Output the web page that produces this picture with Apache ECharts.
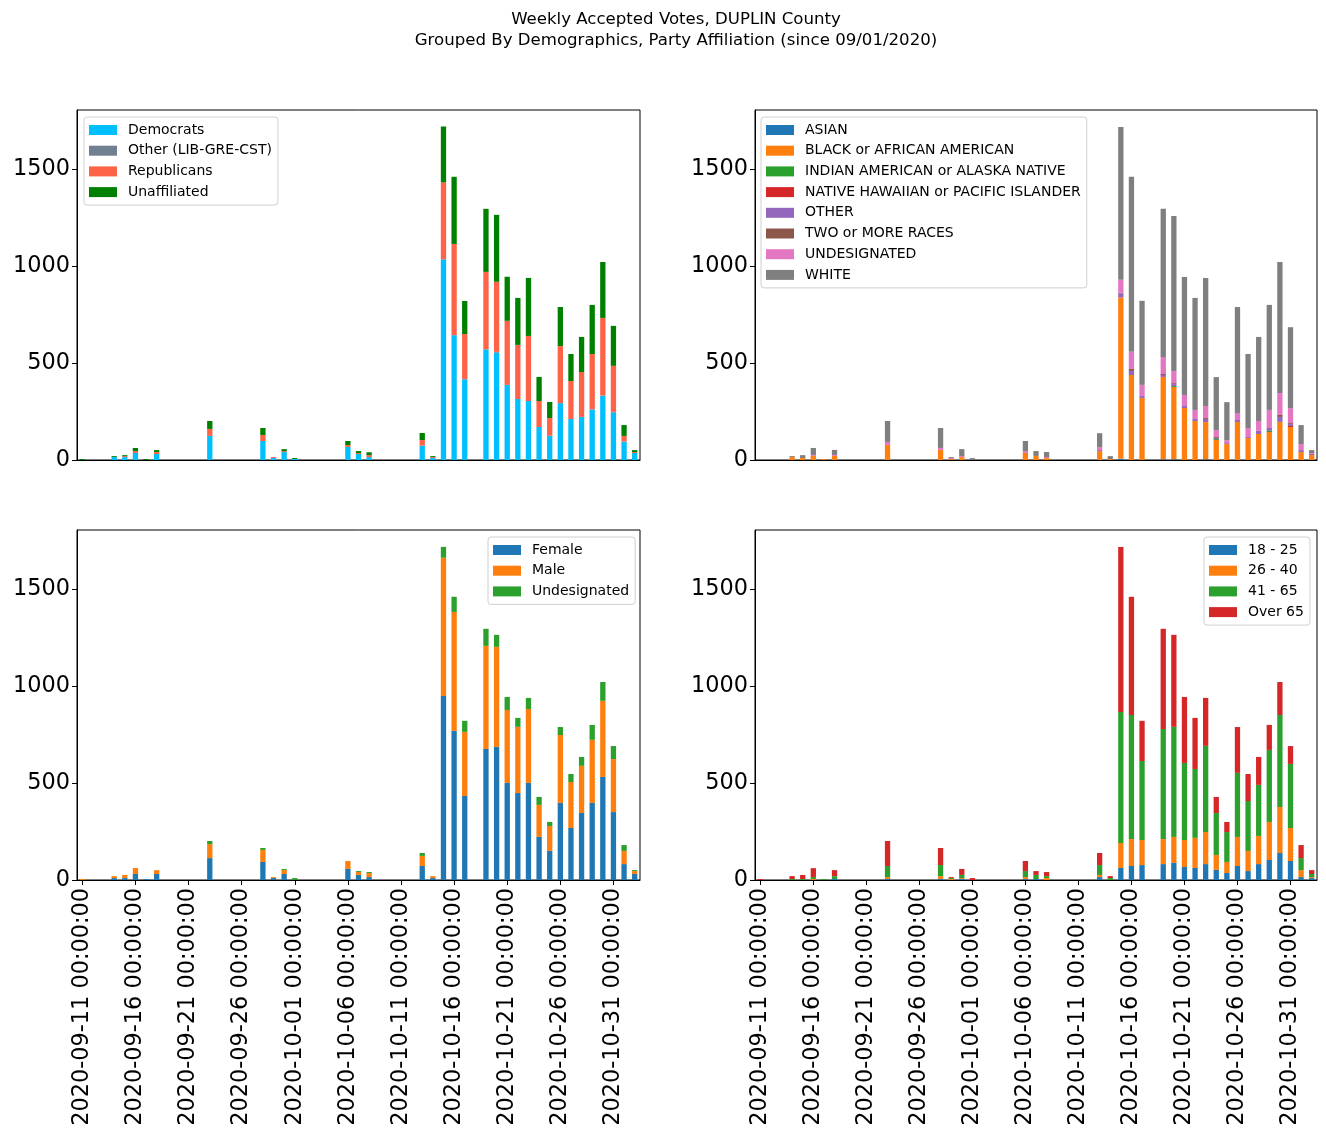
<!DOCTYPE html>
<html>
<head>
<meta charset="utf-8">
<script src="https://cdn.jsdelivr.net/npm/echarts@6/dist/echarts.min.js"></script>
<style>
html,body{margin:0;padding:0;background:#fff;}
#chart{width:1326px;height:1137px;}
</style>
</head>
<body>
<div id="chart"></div>
<script>
const categories = [
'2020-09-11 00:00:00','2020-09-12 00:00:00','2020-09-13 00:00:00','2020-09-14 00:00:00','2020-09-15 00:00:00',
'2020-09-16 00:00:00','2020-09-17 00:00:00','2020-09-18 00:00:00','2020-09-19 00:00:00','2020-09-20 00:00:00',
'2020-09-21 00:00:00','2020-09-22 00:00:00','2020-09-23 00:00:00','2020-09-24 00:00:00','2020-09-25 00:00:00',
'2020-09-26 00:00:00','2020-09-27 00:00:00','2020-09-28 00:00:00','2020-09-29 00:00:00','2020-09-30 00:00:00',
'2020-10-01 00:00:00','2020-10-02 00:00:00','2020-10-03 00:00:00','2020-10-04 00:00:00','2020-10-05 00:00:00',
'2020-10-06 00:00:00','2020-10-07 00:00:00','2020-10-08 00:00:00','2020-10-09 00:00:00','2020-10-10 00:00:00',
'2020-10-11 00:00:00','2020-10-12 00:00:00','2020-10-13 00:00:00','2020-10-14 00:00:00','2020-10-15 00:00:00',
'2020-10-16 00:00:00','2020-10-17 00:00:00','2020-10-18 00:00:00','2020-10-19 00:00:00','2020-10-20 00:00:00',
'2020-10-21 00:00:00','2020-10-22 00:00:00','2020-10-23 00:00:00','2020-10-24 00:00:00','2020-10-25 00:00:00',
'2020-10-26 00:00:00','2020-10-27 00:00:00','2020-10-28 00:00:00','2020-10-29 00:00:00','2020-10-30 00:00:00',
'2020-10-31 00:00:00','2020-11-01 00:00:00','2020-11-02 00:00:00'
];

// Party affiliation (index 0 = 2020-09-11 ... 52 = 2020-11-02)
const democrats = [
0,0,0,15,15,36,0,31,0,0,0,0,
124,0,0,0,0,98,10,41,5,0,0,0,
0,67,31,15,0,0,0,0,74,10,1033,643,
416,0,570,553,387,314,304,170,125,293,211,222,
261,332,244,95,36];
const otherParty = [
0,0,0,0,0,0,0,0,0,0,0,0,
0,0,0,0,0,0,0,0,0,0,0,0,
0,0,0,0,0,0,0,0,0,0,2,0,
0,0,0,4,0,0,0,0,0,0,0,0,
0,0,4,0,0];
const republicans = [
0,0,0,0,5,10,0,10,0,0,0,0,
36,0,0,0,0,31,5,5,0,0,0,0,
0,10,5,10,0,0,0,0,29,5,395,470,
233,0,399,361,330,279,335,134,91,294,196,231,
285,400,237,29,5];
const unaffiliated = [
5,0,0,5,5,16,5,10,0,0,0,0,
41,0,0,0,0,36,0,10,5,0,0,0,
0,21,10,15,0,0,0,0,36,5,288,346,
170,0,325,345,227,242,299,124,83,201,139,181,
253,288,206,56,10];

// Race
const asian = [
0,0,0,0,0,0,0,0,0,0,0,0,
0,0,0,0,0,0,0,0,0,0,0,0,
0,0,0,0,0,0,0,0,0,0,6,0,
0,0,4,4,0,0,4,0,0,0,0,0,
0,0,0,0,0];
const black = [
0,0,0,15,10,21,5,21,0,0,0,0,
77,0,0,0,0,52,5,15,0,0,0,0,
0,36,21,10,0,0,0,0,46,5,831,438,
320,0,424,372,268,201,192,103,82,196,113,134,
144,196,170,41,26];
const indianAm = [
0,0,0,0,0,0,0,0,0,0,0,0,
0,0,0,0,0,0,0,0,0,0,0,0,
0,0,0,0,0,0,0,0,0,0,0,0,
0,0,0,5,0,0,0,5,0,0,0,0,
6,0,0,0,0];
const hawaiian = [
0,0,0,0,0,0,0,0,0,0,0,0,
0,0,0,0,0,0,0,0,0,0,0,0,
0,0,0,0,0,0,0,0,0,0,0,0,
0,0,0,0,0,0,0,0,0,0,0,0,
0,0,5,0,0];
const otherRace = [
0,0,0,0,0,0,0,0,0,0,0,0,
0,0,0,0,0,0,0,0,0,0,0,0,
0,0,0,0,0,0,0,0,5,0,21,21,
10,0,10,10,10,10,15,5,5,10,6,16,
15,26,10,10,5];
const twoOrMore = [
0,0,0,0,0,0,0,0,0,0,0,0,
0,0,0,0,0,0,0,0,0,0,0,0,
0,0,0,0,0,0,0,0,0,0,3,10,
0,0,5,5,0,0,5,5,0,0,0,0,
0,10,5,0,0];
const undesRace = [
0,0,0,0,0,5,0,5,0,0,0,0,
16,0,0,0,0,10,5,5,0,0,0,0,
0,10,0,5,0,0,0,0,15,0,67,88,
57,0,88,62,57,47,62,36,15,36,46,51,
93,113,77,31,5];
const white = [
5,0,0,5,15,36,0,26,0,0,0,0,
108,0,0,0,0,103,5,36,10,0,0,0,
0,52,25,26,0,0,0,0,72,15,788,902,
433,0,763,799,608,577,660,273,196,546,381,433,
541,675,417,98,15];

// Gender
const female = [
0,0,0,10,10,31,5,31,0,0,0,0,
113,0,0,0,0,93,10,31,0,0,0,0,
0,57,26,15,0,0,0,0,72,10,948,768,
433,0,675,686,500,448,500,222,150,397,268,345,
397,531,350,82,31];
const male = [
5,0,0,10,16,31,0,20,0,0,0,0,
72,0,0,0,0,62,5,21,0,0,0,0,
0,41,15,21,0,0,0,0,52,10,712,613,
330,0,531,515,376,341,381,165,128,350,237,243,
325,392,273,68,15];
const undesGender = [
0,0,0,0,0,0,0,0,0,0,0,0,
16,0,0,0,0,10,0,5,10,0,0,0,
0,0,5,5,0,0,0,0,15,0,56,78,
57,0,88,62,67,46,57,41,21,41,41,46,
77,97,67,30,5];

// Age
const age18to25 = [
0,0,0,0,0,0,0,5,0,0,0,0,
5,0,0,0,0,5,0,5,0,0,0,0,
0,5,5,0,0,0,0,0,15,0,62,72,
77,0,82,88,67,62,82,52,36,72,46,82,
103,139,98,15,10];
const age26to40 = [
0,0,0,0,0,5,0,0,0,0,0,0,
10,0,0,0,0,15,5,5,0,0,0,0,
0,10,0,10,0,0,0,0,11,0,129,139,
129,0,129,134,139,155,165,77,57,150,104,145,
196,237,170,36,5];
const age41to65 = [
0,0,0,5,5,10,5,15,0,0,0,0,
57,0,0,0,0,57,5,16,0,0,0,0,
0,31,21,10,0,0,0,0,51,10,675,639,
407,0,567,567,397,355,444,216,154,330,257,263,
371,474,330,62,16];
const ageOver65 = [
5,0,0,15,21,46,0,31,0,0,0,0,
129,0,0,0,0,88,5,31,10,0,0,0,
0,52,20,21,0,0,0,0,62,10,850,609,
207,0,516,474,340,263,247,83,52,236,139,144,
129,170,92,67,20];

const yTicks = [0, 500, 1000, 1500];

const panels = [
  { series: [
      ['Democrats', democrats, '#00BFFF'],
      ['Other (LIB-GRE-CST)', otherParty, '#708090'],
      ['Republicans', republicans, '#FF6347'],
      ['Unaffiliated', unaffiliated, '#008000']],
    legend: {left: 84, top: 117} },
  { series: [
      ['ASIAN', asian, '#1f77b4'],
      ['BLACK or AFRICAN AMERICAN', black, '#ff7f0e'],
      ['INDIAN AMERICAN or ALASKA NATIVE', indianAm, '#2ca02c'],
      ['NATIVE HAWAIIAN or PACIFIC ISLANDER', hawaiian, '#d62728'],
      ['OTHER', otherRace, '#9467bd'],
      ['TWO or MORE RACES', twoOrMore, '#8c564b'],
      ['UNDESIGNATED', undesRace, '#e377c2'],
      ['WHITE', white, '#7f7f7f']],
    legend: {left: 761, top: 117} },
  { series: [
      ['Female', female, '#1f77b4'],
      ['Male', male, '#ff7f0e'],
      ['Undesignated', undesGender, '#2ca02c']],
    legend: {left: 488, top: 537} },
  { series: [
      ['18 - 25', age18to25, '#1f77b4'],
      ['26 - 40', age26to40, '#ff7f0e'],
      ['41 - 65', age41to65, '#2ca02c'],
      ['Over 65', ageOver65, '#d62728']],
    legend: {left: 1204, top: 537} }
];

const FONT = 'DejaVu Sans';
const gridPos = [
  {left: 77, top: 110, width: 563, height: 350},
  {left: 755, top: 110, width: 562, height: 350},
  {left: 77, top: 530, width: 563, height: 350},
  {left: 755, top: 530, width: 562, height: 350}
];

const grids = [], xAxes = [], yAxes = [], series = [], legends = [];
panels.forEach((p, k) => {
  grids.push(Object.assign({show: true, borderColor: '#000', borderWidth: 1, backgroundColor: '#fff'}, gridPos[k]));
  const bottom = k >= 2;
  xAxes.push({
    type: 'category', gridIndex: k, data: categories, boundaryGap: true,
    axisLine: {show: true, lineStyle: {color: '#000', width: 1}},
    axisTick: {show: bottom, interval: 4, alignWithLabel: true, length: 5, lineStyle: {color: '#000'}},
    axisLabel: {show: bottom, interval: 4, rotate: 90, fontFamily: FONT, fontSize: 22.4, color: '#000', margin: 8},
    splitLine: {show: false}
  });
  yAxes.push({
    type: 'value', gridIndex: k, min: 0, max: 1803, interval: 500,
    axisLine: {show: true, lineStyle: {color: '#000', width: 1}},
    axisTick: {show: true, length: 5, lineStyle: {color: '#000'}, customValues: yTicks},
    axisLabel: {fontFamily: FONT, fontSize: 22.4, color: '#000', margin: 7, customValues: yTicks,
      formatter: v => String(v)},
    splitLine: {show: false}
  });
  p.series.forEach(([name, data, color]) => {
    series.push({
      type: 'bar', name: name, data: data, xAxisIndex: k, yAxisIndex: k,
      stack: 'p' + k, barWidth: '50%', itemStyle: {color: color},
      emphasis: {disabled: true}
    });
  });
  legends.push({
    data: p.series.map(s => s[0]), orient: 'vertical',
    left: p.legend.left, top: p.legend.top,
    itemWidth: 28, itemHeight: 10, itemGap: 6.7, icon: 'rect',
    backgroundColor: 'rgba(255,255,255,0.8)', borderColor: '#d0d0d0', borderWidth: 1,
    borderRadius: 3, padding: [6, 6, 6, 5], selectedMode: false,
    textStyle: {fontFamily: FONT, fontSize: 14, color: '#000', lineHeight: 14, padding: [0, 0, 0, 6]}
  });
});

const chart = echarts.init(document.getElementById('chart'));
chart.setOption({
  animation: false,
  backgroundColor: '#fff',
  title: {
    text: 'Weekly Accepted Votes, DUPLIN County\nGrouped By Demographics, Party Affiliation (since 09/01/2020)',
    left: 671, top: 4, textAlign: 'center',
    textStyle: {fontFamily: FONT, fontSize: 16.6, fontWeight: 'normal', color: '#000', lineHeight: 21}
  },
  legend: legends,
  grid: grids,
  xAxis: xAxes,
  yAxis: yAxes,
  series: series
});
</script>
</body>
</html>
